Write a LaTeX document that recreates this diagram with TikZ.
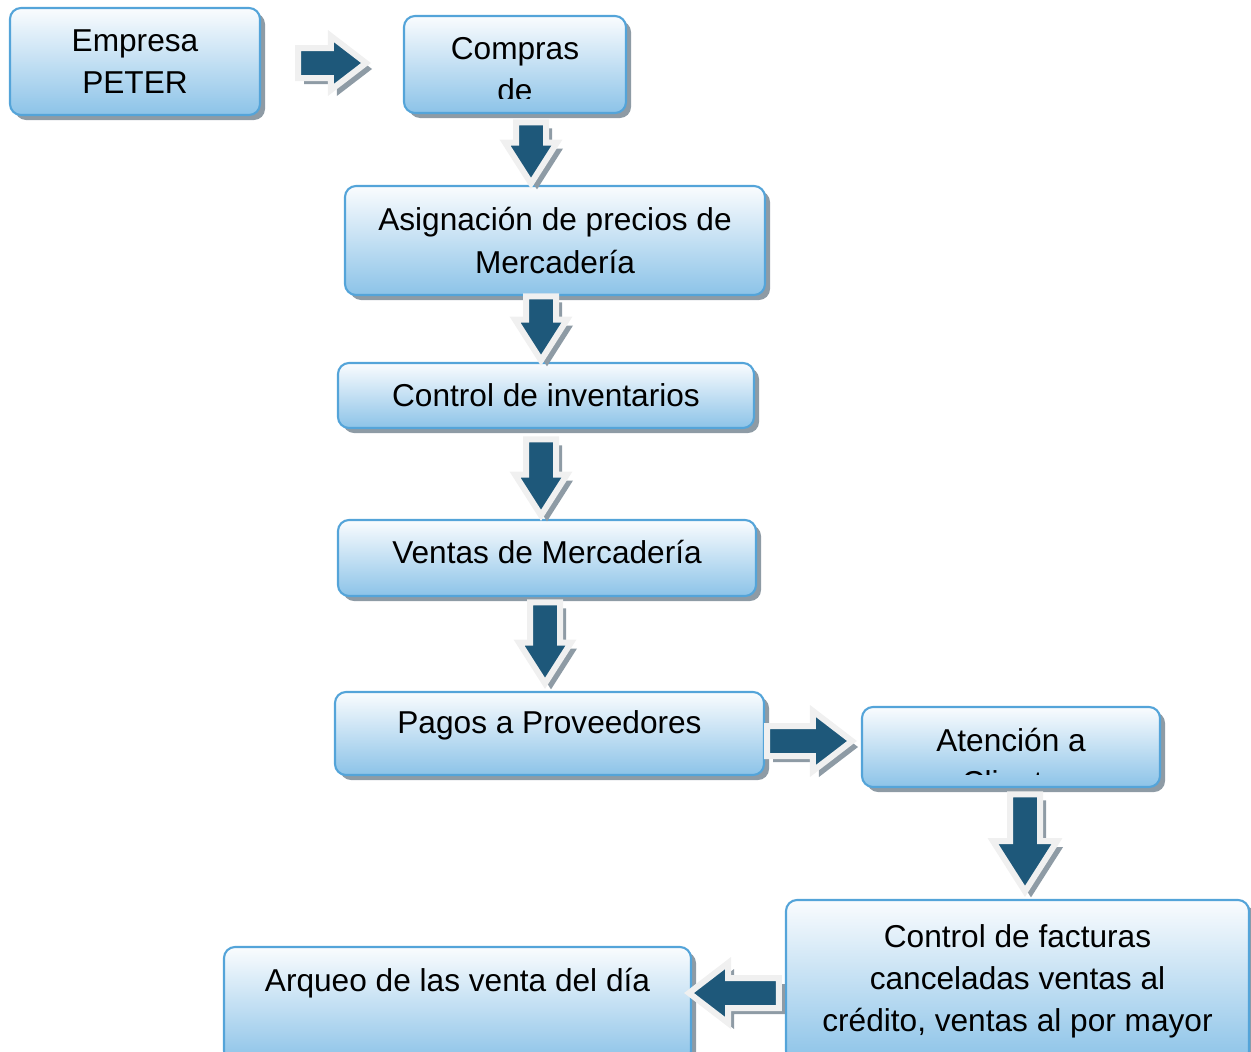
\documentclass[tikz,border=0pt]{standalone}
\usepackage{fontspec}
\setmainfont{Liberation Sans}
\usetikzlibrary{shapes.arrows,shadows,calc}
\definecolor{borde}{RGB}{84,164,217}
\definecolor{cajaarriba}{RGB}{250,252,254}
\definecolor{cajaabajo}{RGB}{140,195,232}
\definecolor{sombra}{RGB}{142,155,165}
\definecolor{flechaazul}{RGB}{30,88,122}
\definecolor{flechaborde}{RGB}{240,240,240}
\tikzset{
  caja/.style={rectangle, rounded corners=0.22cm, draw=borde, line width=1.2pt,
    top color=cajaarriba, bottom color=cajaabajo,
    drop shadow={shadow xshift=0.1cm, shadow yshift=-0.1cm, fill=sombra, opacity=1},
    align=center, font=\fontsize{18}{24}\selectfont, inner sep=0pt},
  texto/.style={align=center, font=\fontsize{18}{24}\selectfont, inner sep=0pt},
  flecha/.style={single arrow, anchor=tip, fill=flechaazul, draw=flechaborde, line width=0.12cm,
    inner xsep=0pt, inner ysep=0.24cm, text height=0pt, text depth=0pt,
    single arrow head extend=0.28cm, single arrow tip angle=75,
    drop shadow={shadow xshift=0.12cm, shadow yshift=-0.12cm, fill=sombra, opacity=1}},
  flechabajo/.style={flecha, shape border rotate=270, inner xsep=0.24cm, inner ysep=0pt,
    single arrow head extend=0.22cm, single arrow tip angle=65}
}
\begin{document}
\begin{tikzpicture}
    \useasboundingbox (0,0) rectangle (25.02,-21.04);

    % cajas
    \node[caja, minimum width=5.0cm, minimum height=2.14cm] (empresa) at (2.70,-1.23) {Empresa\\PETER};
    \node[caja, minimum width=4.44cm, minimum height=1.94cm] (compras) at (10.30,-1.29) {};
    \node[caja, minimum width=8.40cm, minimum height=2.18cm] (asignacion) at (11.10,-4.81) {Asignación de precios de\\Mercadería};
    \node[caja, minimum width=8.32cm, minimum height=1.30cm] (inventarios) at (10.92,-7.91) {Control de inventarios};
    \node[caja, minimum width=8.36cm, minimum height=1.52cm] (ventas) at (10.94,-11.16) {};
    \node[caja, minimum width=8.58cm, minimum height=1.66cm] (pagos) at (10.99,-14.67) {};
    \node[caja, minimum width=5.96cm, minimum height=1.60cm] (atencion) at (20.22,-14.94) {};
    \node[caja, minimum width=9.26cm, minimum height=3.24cm] (facturas) at (20.35,-19.62) {Control de facturas\\canceladas ventas al\\crédito, ventas al por mayor};
    \node[caja, minimum width=9.34cm, minimum height=2.30cm] (arqueo) at (9.15,-20.09) {};

    % textos
    \node[texto] (ventas-t) at ([yshift=0.12cm]ventas.center) {Ventas de Mercadería};
    \node[texto] (pagos-t) at ([yshift=0.17cm]pagos.center) {Pagos a Proveedores};
    \node[texto] (arqueo-t) at ([yshift=0.43cm]arqueo.center) {Arqueo de las venta del día};
    \begin{scope}
      \clip (compras.north west) rectangle ([yshift=0.32cm]compras.south east);
      \node[texto] (compras-t) at ([yshift=-0.11cm]compras.center) {Compras\\de};
    \end{scope}
    \begin{scope}
      \clip (atencion.north west) rectangle ([yshift=0.28cm]atencion.south east);
      \node[texto] (atencion-t) at ([yshift=-0.28cm]atencion.center) {Atención a\\Cliente};
    \end{scope}

    % flechas
    \node[flecha, minimum height=1.36cm, single arrow head extend=0.24cm] (f1) at ([xshift=-0.64cm, yshift=0.03cm]compras.west) {};
    \node[flechabajo, minimum height=1.22cm] (f2) at ([xshift=-0.48cm, yshift=-0.08cm]asignacion.north) {};
    \node[flechabajo, minimum height=1.28cm] (f3) at ([xshift=-0.1cm, yshift=-0.08cm]inventarios.north) {};
    \node[flechabajo, minimum height=1.52cm] (f4) at ([xshift=-0.12cm, yshift=-0.04cm]ventas.north) {};
    \node[flechabajo, minimum height=1.62cm] (f5) at ([xshift=-0.09cm, yshift=0.04cm]pagos.north) {};
    \node[flecha, minimum height=1.70cm, single arrow head extend=0.3cm] (f6) at ([xshift=-0.08cm, yshift=0.12cm]atencion.west) {};
    \node[flechabajo, minimum height=1.94cm, single arrow head extend=0.34cm] (f7) at ([xshift=0.15cm, yshift=0.04cm]facturas.north) {};
    \node[flecha, shape border rotate=180, minimum height=1.80cm, single arrow head extend=0.3cm] (f8) at ([xshift=-0.16cm, yshift=0.23cm]arqueo.east) {};
\end{tikzpicture}
\end{document}
